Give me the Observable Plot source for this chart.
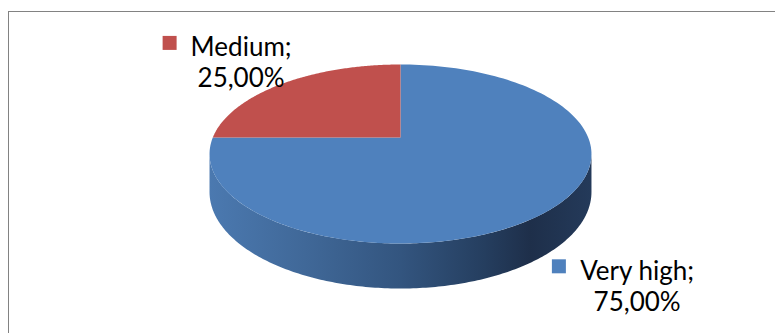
<!DOCTYPE html>
<html><head><meta charset="utf-8">
<script src="https://cdn.jsdelivr.net/npm/d3@7"></script>
<script src="https://cdn.jsdelivr.net/npm/@observablehq/plot@0.6"></script>
<style>
body{margin:0;background:#fff;overflow:hidden;}
#wrap{position:relative;width:775px;height:333px;overflow:hidden;background:#fff;}
#border{position:absolute;left:8px;top:11px;width:900px;height:400px;border-top:1.5px solid #828282;border-left:1.5px solid #828282;}
#chart{position:absolute;left:0;top:0;}
</style></head><body>
<div id="wrap"><div id="border"></div><div id="chart"></div></div>
<script>
// ---- data ----
const categories = ["Very high", "Medium"];
const values = [75, 25];
const colors = ["#4f81bd", "#c0504d"];

// ---- formatting (comma decimal) ----
const fmt = d3.formatLocale({decimal: ",", thousands: ".", grouping: [3], currency: ["", ""]}).format(".2f");
const total = d3.sum(values);

// ---- 3D pie geometry (perspective projection of a disc) ----
const cx = 400, K = 187.7, A = 61.2, B = 137, C = -0.1844, T0 = 36.7;
function proj(theta, r = 1, drop = 0) {
  const u = r * Math.sin(theta), v = -r * Math.cos(theta);
  const s = 1 / (1 + C * v);
  return {x: cx + K * u * s, y: (A * v + B) * s + drop * T0 * s};
}

const rows = categories.map((k, i) => ({key: k, value: values[i]}));
const arcs = d3.pie().sort(null).value(d => d.value)(rows);

const slicePts = [];
for (const a of arcs) {
  const c0 = proj(0, 0);
  slicePts.push({key: a.data.key, ...c0});
  const n = 160;
  for (let j = 0; j <= n; j++) {
    const t = a.startAngle + (a.endAngle - a.startAngle) * j / n;
    slicePts.push({key: a.data.key, ...proj(t)});
  }
  slicePts.push({key: a.data.key, ...c0});
}

// visible outer wall (front half, between silhouette tangents)
const tL = Math.acos(C), tR = 2 * Math.PI - Math.acos(C);
const sidePts = [];
const ns = 200;
for (let j = 0; j <= ns; j++) sidePts.push(proj(tL + (tR - tL) * j / ns));
for (let j = ns; j >= 0; j--) sidePts.push(proj(tL + (tR - tL) * j / ns, 1, 1));

// ---- labels ----
const fs = 26, font = "Lato";
const lh = 1.2;
const labelOffsets = [[84, 68], [-42, -31]]; // layout offsets from slice mid-point on rim
const canvas = document.createElement("canvas");
const ctx = canvas.getContext("2d");
ctx.font = `${fs}px ${font}`;
const labels = arcs.map((a, i) => {
  const mid = (a.startAngle + a.endAngle) / 2;
  const p = proj(mid);
  const line1 = a.data.key + ";";
  const line2 = fmt(a.data.value / total * 100) + "%";
  const x = p.x + labelOffsets[i][0];
  const base = p.y + labelOffsets[i][1];
  const w = ctx.measureText(line1).width;
  return {key: a.data.key, x, y: base - 0.71 * fs, text: line1 + "\n" + line2,
          sx: x - w / 2 - 14 - 7, sy: base - 9.5};
});

const svg = Plot.plot({
  width: 775, height: 333, margin: 0,
  x: {domain: [0, 775], range: [0, 775], axis: null},
  y: {domain: [0, 333], range: [0, 333], axis: null},
  color: {domain: categories, range: colors},
  style: {background: "transparent", fontFamily: font},
  marks: [
    Plot.line(sidePts, {x: "x", y: "y", fill: "url(#sideGrad)", stroke: "none", curve: "linear"}),
    Plot.line(slicePts, {x: "x", y: "y", z: "key", fill: "key", stroke: "none", curve: "linear"}),
    Plot.dot(labels, {x: "sx", y: "sy", symbol: "square", r: 7.9, fill: "key", stroke: "none"}),
    Plot.text(labels, {x: "x", y: "y", text: "text", lineAnchor: "top", textAnchor: "middle",
      fontSize: fs, lineHeight: lh, fill: "#000", fontFamily: font})
  ]
});

const defs = d3.select(svg).insert("defs", ":first-child");
const g = defs.append("linearGradient").attr("id", "sideGrad").attr("x1", 0).attr("x2", 1).attr("y1", 0).attr("y2", 0);
[[0, "#4b79b0"], [0.25, "#406898"], [0.5, "#33557f"], [0.72, "#253e5f"], [0.84, "#1e2f4a"], [1, "#243a5a"]]
  .forEach(([o, c]) => g.append("stop").attr("offset", o).attr("stop-color", c));

document.getElementById("chart").appendChild(svg);
</script>
</body></html>
